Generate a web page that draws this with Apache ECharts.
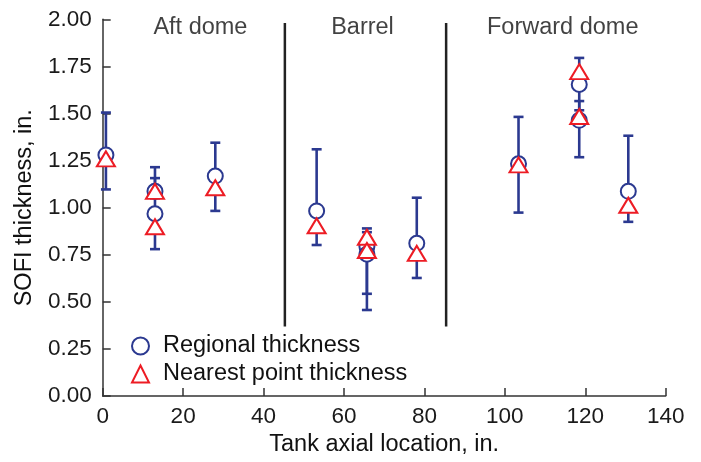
<!DOCTYPE html>
<html>
<head>
<meta charset="utf-8">
<script src="https://cdn.jsdelivr.net/npm/echarts@6/dist/echarts.min.js"></script>
<style>
  html, body { margin: 0; padding: 0; background: #fff; }
  #chart { width: 701px; height: 462px; }
</style>
</head>
<body>
<div id="chart"></div>
<script>
// axial location of each measurement, in.
var locations = [0.8, 13, 13, 28, 53.2, 65.7, 65.7, 78.1, 103.4, 118.5, 118.5, 130.7];
// regional thickness and its min / max range
var regional = [1.28, 1.087, 0.968, 1.168, 0.983, 0.794, 0.753, 0.811, 1.233, 1.654, 1.464, 1.087];
var regionalLow = [1.097, 1.05, 0.78, 0.983, 0.802, 0.543, 0.457, 0.627, 0.974, 1.517, 1.268, 0.925];
var regionalHigh = [1.505, 1.157, 1.215, 1.345, 1.31, 0.89, 0.87, 1.053, 1.482, 1.795, 1.566, 1.382];
// nearest point thickness
var nearest = [1.259, 1.087, 0.899, 1.106, 0.904, 0.843, 0.773, 0.758, 1.227, 1.722, 1.484, 1.013];
// tank sections
var sectionNames = ["Aft dome", "Barrel", "Forward dome"];
var sectionCenters = [24.3, 64.6, 114.4];
var sectionBreaks = [45.3, 85.4];

var blue = "#2b3990";
var red = "#ed1c24";
var fontFamily = "Liberation Sans, Arial, sans-serif";

var regionalData = [], nearestData = [], errData = [];
for (var i = 0; i < locations.length; i++) {
  regionalData.push([locations[i], regional[i]]);
  nearestData.push([locations[i], nearest[i]]);
  errData.push([locations[i], regionalLow[i], regionalHigh[i]]);
}
var breakData = sectionBreaks.map(function (x) { return [x, 0.37, 1.98]; });
var labelData = sectionCenters.map(function (x) { return [x, 1.957]; });

var chart = echarts.init(document.getElementById("chart"));
var option = {
  animation: false,
  backgroundColor: "#fff",
  textStyle: { fontFamily: fontFamily },
  grid: { left: 102.7, right: 35.3, top: 19.3, bottom: 63 },
  legend: {
    orient: "vertical",
    left: 126,
    top: 329,
    itemWidth: 17,
    itemHeight: 17,
    itemGap: 4,
    textStyle: { fontSize: 23.5, color: "#111", fontFamily: fontFamily, padding: [0, 0, 0, 9] },
    data: [
      { name: "Regional thickness", icon: "emptyCircle" },
      { name: "Nearest point thickness", icon: "emptyTriangle" },
    ],
  },
  xAxis: {
    type: "value",
    min: 0,
    max: 140,
    interval: 20,
    name: "Tank axial location, in.",
    nameLocation: "middle",
    nameGap: 30,
    nameTextStyle: { fontSize: 23.5, color: "#111" },
    axisLine: { lineStyle: { color: "#333", width: 1.5 } },
    axisTick: { inside: true, length: 8, lineStyle: { color: "#333", width: 1.5 } },
    axisLabel: { fontSize: 22.5, color: "#1a1a1a", margin: 9 },
    splitLine: { show: false },
  },
  yAxis: {
    type: "value",
    min: 0,
    max: 2,
    interval: 0.25,
    name: "SOFI thickness, in.",
    nameLocation: "middle",
    nameGap: 66,
    nameTextStyle: { fontSize: 23.5, color: "#111" },
    axisLine: { lineStyle: { color: "#333", width: 1.5 } },
    axisTick: { inside: true, length: 8, lineStyle: { color: "#333", width: 1.5 } },
    axisLabel: {
      fontSize: 22.5,
      color: "#1a1a1a",
      margin: 11,
      formatter: function (v) { return v.toFixed(2); },
    },
    splitLine: { show: false },
  },
  series: [
    {
      name: "breaks",
      type: "custom",
      data: breakData,
      encode: { x: 0, y: [1, 2] },
      z: 1,
      renderItem: function (params, api) {
        var a = api.coord([api.value(0), api.value(1)]);
        var b = api.coord([api.value(0), api.value(2)]);
        return {
          type: "line",
          shape: { x1: a[0], y1: a[1], x2: b[0], y2: b[1] },
          style: { stroke: "#222", lineWidth: 2.5 },
        };
      },
    },
    {
      name: "labels",
      type: "scatter",
      data: labelData,
      symbolSize: 0,
      silent: true,
      label: {
        show: true,
        position: "inside",
        fontSize: 23.5,
        color: "#111",
        formatter: function (p) { return sectionNames[p.dataIndex]; },
      },
    },
    {
      name: "range",
      type: "custom",
      data: errData,
      encode: { x: 0, y: [1, 2] },
      z: 2,
      renderItem: function (params, api) {
        var lo = api.coord([api.value(0), api.value(1)]);
        var hi = api.coord([api.value(0), api.value(2)]);
        var w = 5;
        var st = { stroke: blue, lineWidth: 2.6 };
        return {
          type: "group",
          children: [
            { type: "line", shape: { x1: lo[0], y1: lo[1], x2: hi[0], y2: hi[1] }, style: st },
            { type: "line", shape: { x1: lo[0] - w, y1: lo[1], x2: lo[0] + w, y2: lo[1] }, style: st },
            { type: "line", shape: { x1: hi[0] - w, y1: hi[1], x2: hi[0] + w, y2: hi[1] }, style: st },
          ],
        };
      },
    },
    {
      name: "Regional thickness",
      type: "scatter",
      data: regionalData,
      symbol: "emptyCircle",
      symbolSize: 15,
      z: 3,
      itemStyle: { color: blue, borderColor: blue, borderWidth: 2, opacity: 1 },
    },
    {
      name: "Nearest point thickness",
      type: "scatter",
      data: nearestData,
      symbol: "emptyTriangle",
      symbolSize: [18, 15],
      z: 4,
      itemStyle: { color: red, borderColor: red, borderWidth: 2.8, opacity: 1 },
    },
  ],
};
chart.setOption(option);
</script>
</body>
</html>
